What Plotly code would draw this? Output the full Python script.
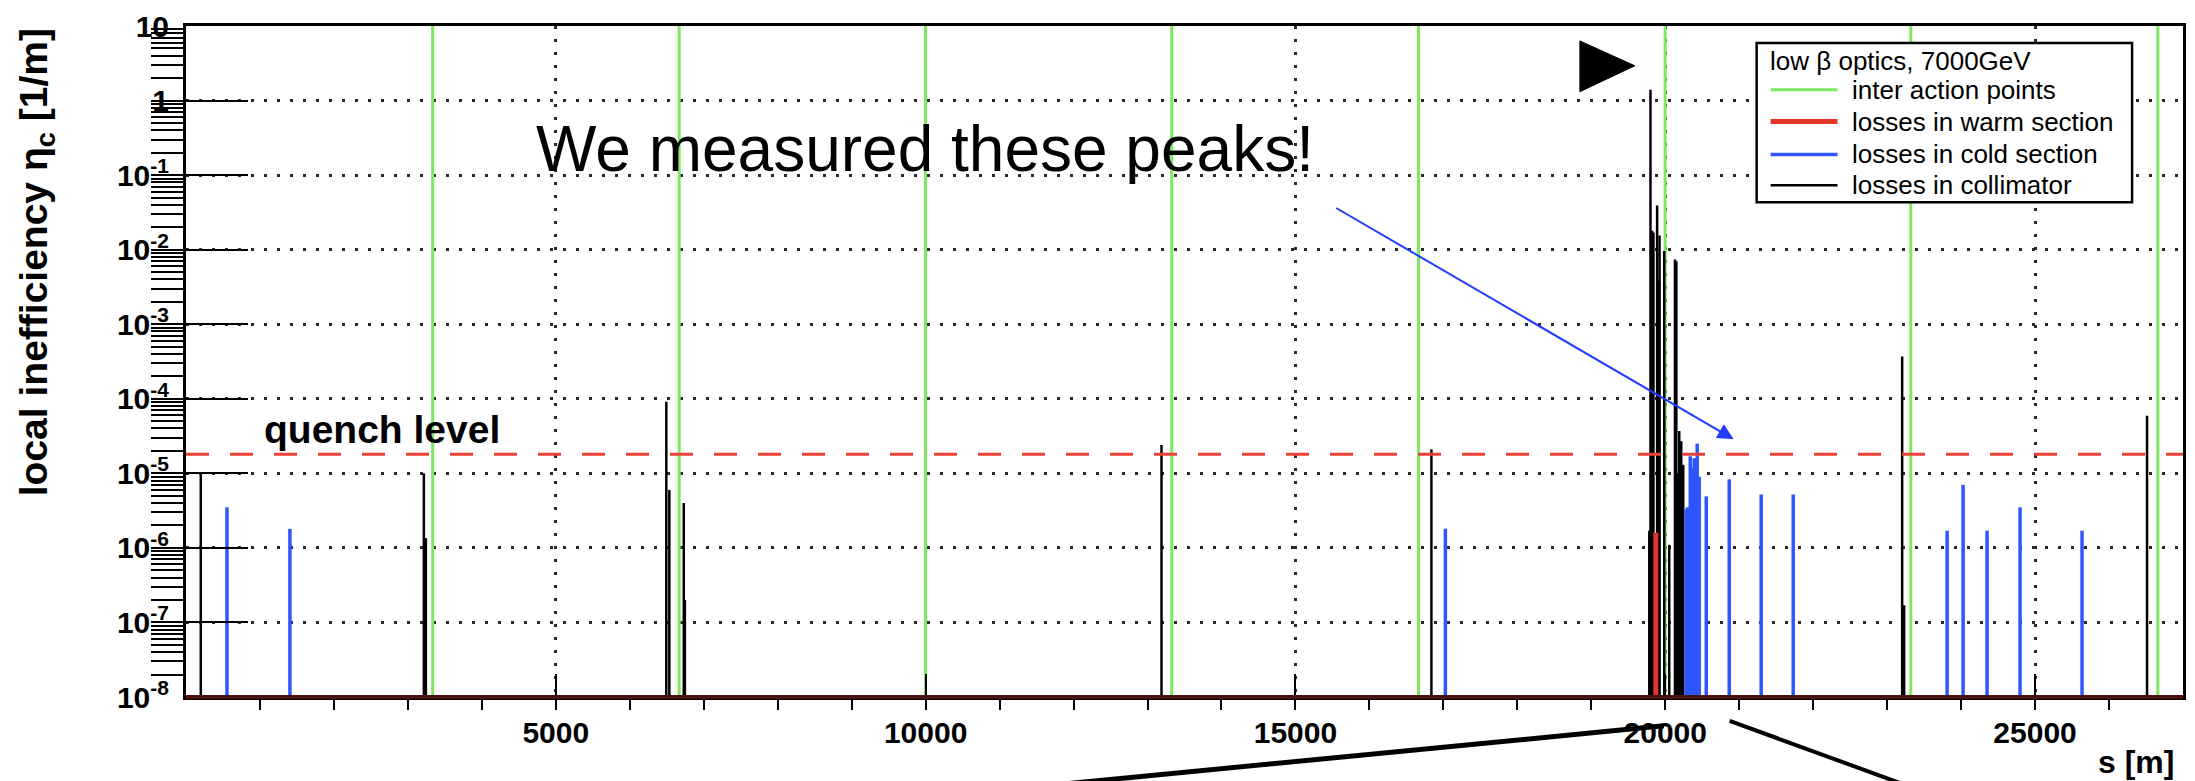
import plotly.graph_objects as go

# ---------------------------------------------------------------
# Loss map: local cleaning inefficiency around the ring (7 TeV, low beta)
# ---------------------------------------------------------------

# Interaction points (s in m)
ip_s = [3335, 6668, 9998, 13327, 16664, 19998, 23320, 26660]
ip_level = 10.0

# Losses in collimators
coll_s = [200, 3216, 3243, 6494, 6535, 6730, 6745, 13189, 16838,
          19784, 19800, 19822, 19840, 19890, 19914, 19923, 19986, 20054,
          20131, 20150, 20162, 20189, 20216, 20243,
          23203, 23230, 26514]
coll_eta = [1.0e-5, 1.0e-5, 1.35e-6, 9.1e-5, 6.0e-6, 4.0e-6, 2.0e-7, 2.4e-5, 2.1e-5,
            1.7e-6, 1.4, 0.018, 0.017, 0.039, 0.0038, 0.0155, 0.0096, 1.1e-6,
            0.0074, 0.0070, 1.0e-5, 3.7e-5, 2.7e-5, 1.3e-5,
            3.7e-4, 1.7e-7, 5.9e-5]

# Losses in cold (superconducting) sections
cold_s = [554, 1405, 17027, 20284, 20300, 20338, 20365, 20392, 20432, 20459,
          20554, 20865, 21297, 21730, 23811, 24027, 24351, 24797, 25635]
cold_eta = [3.5e-6, 1.8e-6, 1.8e-6, 3.3e-6, 3.5e-6, 1.7e-5, 1.2e-5, 1.6e-5, 2.5e-5, 9.0e-6,
            4.9e-6, 8.3e-6, 5.2e-6, 5.2e-6, 1.7e-6, 7.0e-6, 1.7e-6, 3.5e-6, 1.7e-6]

# Losses in warm sections
warm_s = [19872]
warm_eta = [1.6e-6]

quench_level = 1.8e-5

# Axis definitions
s_range = [0, 27000]
eta_floor = 1e-8
x_tickvals = [5000, 10000, 15000, 20000, 25000]
x_ticktext = ["5000", "10000", "15000", "20000", "25000"]
y_tickvals = [10, 1, 1e-1, 1e-2, 1e-3, 1e-4, 1e-5, 1e-6, 1e-7, 1e-8]
y_ticktext = ["10", "1", "10<sup>-1</sup>", "10<sup>-2</sup>", "10<sup>-3</sup>",
              "10<sup>-4</sup>", "10<sup>-5</sup>", "10<sup>-6</sup>",
              "10<sup>-7</sup>", "10<sup>-8</sup>"]

legend_header = "low β optics, 7000GeV"
series_labels = ["inter action points", "losses in warm section",
                 "losses in cold section", "losses in collimator"]

# Styles
GREEN = "#7ee860"
RED = "#e2352a"
BLUE = "#2f55ff"
BLACK = "#000000"
FONT = "Liberation Sans, Arial, Helvetica, sans-serif"
styles = [(GREEN, 3), (RED, 5), (BLUE, 3.5), (BLACK, 2.5)]


def stems(xs, ys, base):
    """Vertical lines from the axis floor up to each value."""
    px, py = [], []
    for x, y in zip(xs, ys):
        px += [x, x, None]
        py += [base, y, None]
    return px, py


fig = go.Figure()

ipx, ipy = stems(ip_s, [ip_level] * len(ip_s), eta_floor)
fig.add_trace(go.Scatter(x=ipx, y=ipy, mode="lines",
                         line=dict(color=GREEN, width=3), hoverinfo="skip"))

cx, cy = stems(coll_s, coll_eta, eta_floor)
fig.add_trace(go.Scatter(x=cx, y=cy, mode="lines",
                         line=dict(color=BLACK, width=2.5)))

bx, by = stems(cold_s, cold_eta, eta_floor)
fig.add_trace(go.Scatter(x=bx, y=by, mode="lines",
                         line=dict(color=BLUE, width=3.5)))

wx, wy = stems(warm_s, warm_eta, eta_floor)
fig.add_trace(go.Scatter(x=wx, y=wy, mode="lines",
                         line=dict(color=RED, width=5)))

# Quench limit
fig.add_trace(go.Scatter(x=s_range, y=[quench_level, quench_level], mode="lines",
                         line=dict(color="#e8413a", width=3, dash="23px,21px")))

grid_common = dict(showgrid=True, gridcolor="#2a2a2a", gridwidth=2.5,
                   griddash="3px,10px", showline=True, linecolor="black",
                   linewidth=3, mirror=True, zeroline=False,
                   ticks="inside", tickcolor="black", tickwidth=2)

fig.update_xaxes(range=s_range, tickmode="array", tickvals=x_tickvals,
                 ticktext=x_ticktext, ticklen=23, ticklabelstandoff=7,
                 tickfont=dict(family=FONT, size=30, color="black", weight="bold"),
                 minor=dict(tickmode="linear", tick0=0, dtick=1000, ticklen=10,
                            tickwidth=2, tickcolor="black", showgrid=False),
                 **grid_common)

fig.update_yaxes(type="log", range=[-8, 1], tickmode="array", tickvals=y_tickvals,
                 ticktext=y_ticktext, ticklen=62, ticklabelstandoff=8,
                 tickfont=dict(family=FONT, size=30, color="black", weight="bold"),
                 minor=dict(dtick="D1", ticklen=32, tickwidth=2,
                            tickcolor="black", showgrid=False),
                 **grid_common)

shapes = []
# bottom axis line (warm-section baseline drawn over the axis)
shapes.append(dict(type="line", xref="paper", yref="paper", x0=0, x1=1, y0=0, y1=0,
                   line=dict(color="#4b1010", width=4), layer="above"))
# beam direction marker
shapes.append(dict(type="path", xref="paper", yref="paper",
                   path="M0.698,0.9777 L0.698,0.9021 L0.7255,0.9407 Z",
                   fillcolor="black", line=dict(color="black", width=1), layer="above"))
# zoom guide lines below the axis
shapes.append(dict(type="line", xref="paper", yref="paper",
                   x0=0.740, y0=-0.043, x1=0.4105, y1=-0.138,
                   line=dict(color="black", width=5), layer="above"))
shapes.append(dict(type="line", xref="paper", yref="paper",
                   x0=0.773, y0=-0.0356, x1=0.8673, y1=-0.138,
                   line=dict(color="black", width=4), layer="above"))

# legend box
lx0, lx1, ly0, ly1 = 0.7865, 0.9745, 0.7374, 0.9748
shapes.append(dict(type="rect", xref="paper", yref="paper", x0=lx0, x1=lx1, y0=ly0, y1=ly1,
                   fillcolor="white", line=dict(color="black", width=2.5), layer="above"))
row_y = [0.9050, 0.8576, 0.8086, 0.7626]
for (col, w), yy in zip(styles, row_y):
    shapes.append(dict(type="line", xref="paper", yref="paper",
                       x0=0.7935, x1=0.827, y0=yy, y1=yy,
                       line=dict(color=col, width=w), layer="above"))

annotations = [
    dict(text=legend_header, xref="paper", yref="paper", x=0.792, y=0.948,
         xanchor="left", yanchor="middle", showarrow=False,
         font=dict(family=FONT, size=26, color="black")),
]
for lab, yy in zip(series_labels, row_y):
    annotations.append(dict(text=lab, xref="paper", yref="paper", x=0.833, y=yy,
                            xanchor="left", yanchor="middle", showarrow=False,
                            font=dict(family=FONT, size=26, color="black")))

annotations += [
    # y axis title
    dict(text="local inefficiency η<sub>c</sub> [1/m]", xref="paper", yref="paper",
         x=-0.075, y=1.0, xanchor="center", yanchor="top", textangle=-90,
         showarrow=False, font=dict(family=FONT, size=39, color="black", weight="bold")),
    # x axis title
    dict(text="s [m]", xref="paper", yref="paper", x=0.9965, y=-0.0964,
         xanchor="right", yanchor="middle", showarrow=False,
         font=dict(family=FONT, size=32, color="black", weight="bold")),
    # quench label
    dict(text="quench level", xref="paper", yref="paper", x=0.038, y=0.399,
         xanchor="left", yanchor="middle", showarrow=False,
         font=dict(family=FONT, size=39, color="black", weight="bold")),
    # comment
    dict(text="We measured these peaks!", xref="paper", yref="paper", x=0.37, y=0.816,
         xanchor="center", yanchor="middle", showarrow=False,
         font=dict(family=FONT, size=64, color="black")),
    dict(text="", xref="paper", yref="paper", x=0.775, y=0.3843, ax=-399, ay=-232,
         showarrow=True, arrowhead=2, arrowsize=1.6, arrowwidth=2,
         arrowcolor="#1f3cff", standoff=0),
]

fig.update_layout(width=2195, height=781, margin=dict(l=186, r=9, t=23, b=84),
                  plot_bgcolor="white", paper_bgcolor="white", showlegend=False,
                  shapes=shapes, annotations=annotations)

fig.write_html("out.html")
